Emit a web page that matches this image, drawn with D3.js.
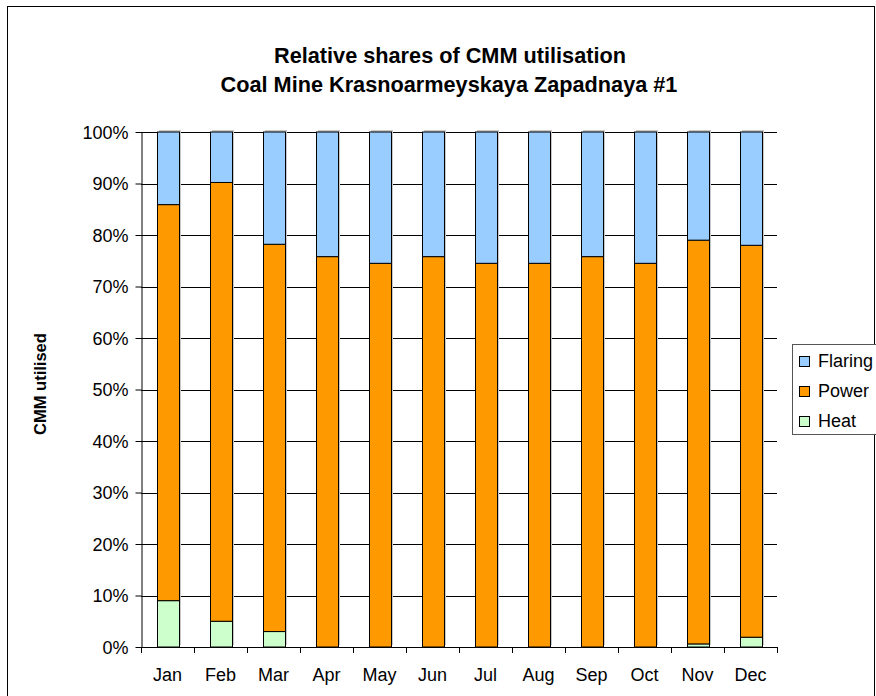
<!DOCTYPE html>
<html><head><meta charset="utf-8">
<script src="https://cdn.jsdelivr.net/npm/d3@7"></script>
<style>body{margin:0;background:#fff}svg{display:block}text{font-family:"Liberation Sans",Arial,sans-serif}</style>
</head><body>
<script>
const months = ["Jan","Feb","Mar","Apr","May","Jun","Jul","Aug","Sep","Oct","Nov","Dec"];
const heat =    [9.0, 5.0, 3.0, 0, 0, 0, 0, 0, 0, 0, 0.6, 1.9];
const power =   [76.9, 85.2, 75.2, 75.8, 74.5, 75.8, 74.5, 74.5, 75.8, 74.5, 78.4, 76.1];
const flaring = [14.1, 9.8, 21.8, 24.2, 25.5, 24.2, 25.5, 25.5, 24.2, 25.5, 21.0, 22.0];
const seriesNames = ["Heat","Power","Flaring"];
const colors = {Heat:"#CCFFCC", Power:"#FF9900", Flaring:"#99CCFF"};
const yTicks = [0,10,20,30,40,50,60,70,80,90,100];

const W=876,H=696;
const svg=d3.select("body").append("svg").attr("width",W).attr("height",H);
svg.append("rect").attr("x",7.5).attr("y",6.5).attr("width",867).attr("height",700).attr("fill","#fff").attr("stroke","#000");

const pLeft=141,pRight=777,pTop=132,pBottom=647;
const x=d3.scaleBand().domain(months).range([pLeft,pRight]).paddingInner(0.585).paddingOuter(0.2925);
const xb=d3.scaleBand().domain(months).range([pLeft,pRight]);
const y=d3.scaleLinear().domain([0,100]).range([pBottom,pTop]);

// gridlines
svg.append("g").selectAll("line").data(yTicks.filter(d=>d>0)).join("line")
  .attr("x1",pLeft).attr("x2",pRight).attr("y1",d=>Math.round(y(d))+0.5).attr("y2",d=>Math.round(y(d))+0.5)
  .attr("stroke","#000");

const table=months.map((m,i)=>({month:m,Heat:heat[i],Power:power[i],Flaring:flaring[i]}));
const totals=table.map(d=>d.Heat+d.Power+d.Flaring);
const norm=table.map((d,i)=>({month:d.month,Heat:d.Heat/totals[i]*100,Power:d.Power/totals[i]*100,Flaring:d.Flaring/totals[i]*100}));
const stack=d3.stack().keys(seriesNames)(norm);

// shadow
svg.append("g").selectAll("rect").data(norm).join("rect")
  .attr("x",d=>Math.round(x(d.month))+2).attr("y",y(100)-2).attr("width",Math.round(x.bandwidth())).attr("height",y(0)-y(100))
  .attr("fill","#c8c8c8");

svg.append("g").selectAll("g").data(stack).join("g").attr("fill",s=>colors[s.key])
  .selectAll("rect").data(s=>s).join("rect")
  .attr("x",d=>Math.round(x(d.data.month))+0.5).attr("width",Math.round(x.bandwidth()))
  .attr("y",d=>y(d[1])).attr("height",d=>Math.max(0,y(d[0])-y(d[1])))
  .attr("stroke","#000").attr("stroke-width",1);

// y axis
const ya=svg.append("g").attr("transform",`translate(${pLeft+0.5},0)`)
  .call(d3.axisLeft(y).tickValues(yTicks).tickFormat(d=>d+"%").tickSize(6).tickSizeOuter(0));
ya.select(".domain").attr("stroke","#000");
ya.selectAll(".tick line").attr("stroke","#000");
ya.selectAll("text").attr("font-size",18).attr("fill","#000").attr("x",-13).attr("dy","0.35em").attr("font-family","Liberation Sans, Arial, sans-serif");

// x axis
const xa=svg.append("g").attr("transform",`translate(0,${pBottom+0.5})`)
  .call(d3.axisBottom(x).tickSize(0).tickSizeOuter(0));
xa.select(".domain").attr("d",`M${pLeft},0H${pRight}`).attr("stroke","#000");
xa.selectAll("text").attr("font-size",18).attr("fill","#000").attr("y",33).attr("dy",0).attr("font-family","Liberation Sans, Arial, sans-serif");
svg.append("g").selectAll("line").data(months.concat(["end"])).join("line")
  .attr("x1",(d,i)=>Math.round(pLeft+i*xb.bandwidth())+0.5).attr("x2",(d,i)=>Math.round(pLeft+i*xb.bandwidth())+0.5)
  .attr("y1",pBottom).attr("y2",pBottom+6).attr("stroke","#000");

// title
svg.append("text").attr("x",450).attr("y",63).attr("text-anchor","middle").attr("font-weight","bold").attr("font-size",21.7).text("Relative shares of CMM utilisation");
svg.append("text").attr("x",449).attr("y",92).attr("text-anchor","middle").attr("font-weight","bold").attr("font-size",21.7).text("Coal Mine Krasnoarmeyskaya Zapadnaya #1");

// y label
svg.append("text").attr("transform","translate(46,384) rotate(-90)").attr("text-anchor","middle").attr("font-weight","bold").attr("font-size",16.5).text("CMM utilised");

// legend
const lg=svg.append("g");
lg.append("rect").attr("x",792.5).attr("y",344.5).attr("width",90).attr("height",90).attr("fill","#fff").attr("stroke","#555");
const legOrder=["Flaring","Power","Heat"];
legOrder.forEach((k,i)=>{
  lg.append("rect").attr("x",799.5).attr("y",356.5+i*30).attr("width",10).attr("height",10).attr("fill",colors[k]).attr("stroke","#000");
  lg.append("text").attr("x",818).attr("y",367+i*30).attr("font-size",18).text(k);
});
</script>
</body></html>
